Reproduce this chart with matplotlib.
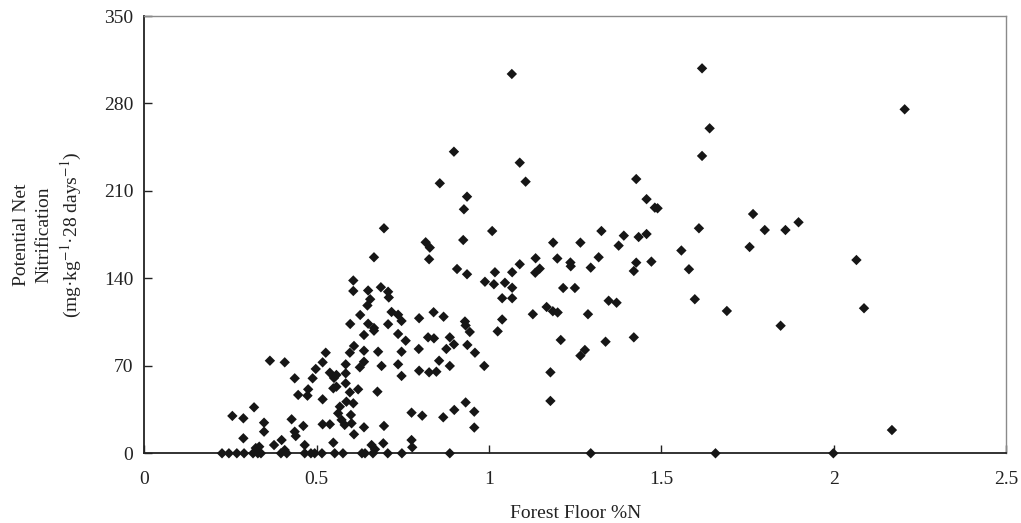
import matplotlib
matplotlib.use("Agg")
import matplotlib.pyplot as plt

plt.rcParams['font.family'] = ['Liberation Serif', 'DejaVu Serif']
plt.rcParams['mathtext.fontset'] = 'stix'

# forest floor %N
forest_n = [
    # zero nitrification
    0.225, 0.245, 0.268, 0.289, 0.315, 0.329, 0.338, 0.396, 0.413, 0.465, 0.483, 0.494,
    0.515, 0.552, 0.576, 0.631, 0.640, 0.663, 0.706, 0.747, 0.886, 1.295, 1.657, 1.999,
    # low N cluster
    0.364, 0.407, 0.526, 0.517, 0.497, 0.538, 0.550, 0.436, 0.488, 0.548, 0.475, 0.446,
    0.473, 0.517, 0.318, 0.255, 0.287, 0.347, 0.427, 0.461, 0.517, 0.538, 0.347, 0.436,
    0.439, 0.287, 0.398, 0.376, 0.333, 0.465, 0.548, 0.407, 0.323,
    # 0.55 - 0.95, lower part
    0.637, 0.666, 0.736, 0.758, 0.823, 0.840, 0.886, 0.876, 0.898, 0.608, 0.596, 0.637,
    0.678, 0.746, 0.796, 0.584, 0.625, 0.637, 0.688, 0.736, 0.797, 0.826, 0.847, 0.855,
    0.886, 0.746, 0.557, 0.584, 0.584, 0.557, 0.596, 0.620, 0.676, 0.586, 0.606, 0.567,
    0.562, 0.572, 0.599, 0.601, 0.581, 0.775, 0.806, 0.867, 0.899, 0.695, 0.637, 0.608,
    0.693, 0.659, 0.669, 0.775, 0.777, 0.932, 0.957, 0.957,
    # 0.55 - 0.95, middle part
    0.606, 0.606, 0.649, 0.686, 0.707, 0.709, 0.655, 0.647, 0.717, 0.736, 0.746, 0.626,
    0.597, 0.649, 0.666, 0.707, 0.797, 0.839, 0.868, 0.930, 0.932, 0.944, 0.937, 0.959,
    0.986,
    # 0.55 - 0.95, upper part
    0.695, 0.816, 0.828, 0.826, 0.666, 0.925, 0.907, 0.898, 0.857, 0.936, 0.927, 0.936,
    # 1.0 - 1.3
    1.066, 1.089, 1.106, 1.009, 1.186, 1.265, 1.135, 1.198, 1.236, 1.237, 1.089, 1.067,
    1.017, 0.988, 1.014, 1.046, 1.067, 1.038, 1.067, 1.134, 1.147, 1.215, 1.249, 1.287,
    1.167, 1.185, 1.199, 1.127, 1.038, 1.025, 1.208, 1.278, 1.265, 1.178, 1.178,
    # 1.3 - 1.8
    1.618, 1.640, 1.618, 1.427, 1.457, 1.481, 1.489, 1.766, 1.800, 1.609, 1.326, 1.391,
    1.434, 1.457, 1.376, 1.756, 1.558, 1.580, 1.597, 1.690, 1.318, 1.295, 1.427, 1.420,
    1.471, 1.347, 1.370, 1.338, 1.420,
    # high N
    2.206, 1.860, 1.898, 2.066, 2.088, 1.846, 2.169,
]

# potential net nitrification (mg kg-1 28 days-1)
nitrification = [
    0, 0, 0, 0, 0, 0, 0, 0, 0, 0, 0, 0,
    0, 0, 0, 0, 0, 0, 0, 0, 0, 0, 0, 0,
    74.1, 72.8, 80.5, 72.8, 67.5, 64.5, 60.3, 60.0, 60.0, 52.0, 51.2, 46.7,
    46.1, 43.2, 36.8, 29.9, 28.0, 24.5, 27.2, 21.9, 23.2, 23.2, 17.3, 17.3,
    13.8, 12.0, 10.6, 6.6, 5.3, 6.6, 8.5, 2.6, 4.2,
    94.7, 98.1, 95.5, 90.1, 92.8, 92.0, 92.8, 83.5, 87.2, 85.9, 80.5, 82.1,
    81.3, 81.3, 83.5, 71.2, 68.8, 73.3, 69.9, 71.2, 66.1, 64.8, 65.3, 74.1,
    69.9, 61.9, 62.7, 64.0, 56.0, 53.3, 48.8, 51.2, 49.3, 41.3, 40.0, 37.3,
    32.0, 26.7, 30.7, 24.0, 22.7, 32.5, 30.1, 28.8, 34.7, 21.9, 20.8, 15.2,
    8.0, 6.6, 3.2, 10.6, 4.8, 40.7, 33.3, 20.6,
    138.3, 129.9, 130.3, 132.9, 129.3, 124.7, 123.3, 118.3, 113.1, 110.9, 105.9, 110.7,
    103.5, 103.7, 100.3, 103.3, 108.1, 112.9, 109.3, 105.5, 102.3, 97.1, 86.7, 80.5,
    69.9,
    180.1, 168.9, 164.6, 155.3, 156.9, 170.7, 147.5, 241.4, 216.1, 205.4, 195.3, 143.3,
    303.6, 232.6, 217.4, 177.9, 168.6, 168.6, 156.1, 155.9, 152.7, 149.7, 151.3, 144.9,
    144.9, 137.3, 135.3, 136.5, 132.5, 124.1, 124.1, 144.5, 147.8, 132.3, 132.3, 111.3,
    117.1, 113.7, 112.7, 111.3, 107.1, 97.6, 90.7, 82.7, 78.1, 64.8, 41.9,
    308.1, 260.1, 238.0, 219.5, 203.4, 196.6, 196.1, 191.5, 178.7, 180.1, 177.9, 174.2,
    173.1, 175.5, 166.2, 165.1, 162.3, 147.3, 123.3, 113.9, 156.9, 148.6, 152.6, 145.9,
    153.4, 122.1, 120.5, 89.3, 92.8,
    275.3, 178.7, 184.9, 154.7, 116.1, 102.1, 18.6,
]

x_ticks = [0, 0.5, 1, 1.5, 2, 2.5]
x_labels = ['0', '0.5', '1', '1.5', '2', '2.5']
y_ticks = [0, 70, 140, 210, 280, 350]

fig = plt.figure(figsize=(10.21, 5.23), dpi=100)
ax = fig.add_axes([0.1415, 0.1333, 0.8438, 0.8361])

ax.scatter(forest_n, nitrification, marker='D', s=28, color='#161616',
           edgecolors='none', clip_on=False, zorder=3)

ax.set_xlim(0, 2.5)
ax.set_ylim(0, 350)
ax.set_xticks(x_ticks)
ax.set_xticklabels(x_labels)
ax.set_yticks(y_ticks)
ax.tick_params(direction='in', length=6, width=1, labelsize=14, colors='#222222')
ax.tick_params(axis='x', pad=13)
ax.tick_params(axis='y', pad=8)

for side in ['left', 'bottom']:
    ax.spines[side].set_color('#222222')
    ax.spines[side].set_linewidth(1.3)
for side in ['top', 'right']:
    ax.spines[side].set_color('#8a8a8a')
    ax.spines[side].set_linewidth(1.0)

ax.set_xlabel('Forest Floor %N', fontsize=14, color='#222222', labelpad=12)
ax.set_ylabel('Potential Net\nNitrification\n(mg·kg$^{-1}$·28 days$^{-1}$)',
              fontsize=14, color='#222222', labelpad=14, linespacing=1.4)

fig.savefig('out.png', dpi=100)
